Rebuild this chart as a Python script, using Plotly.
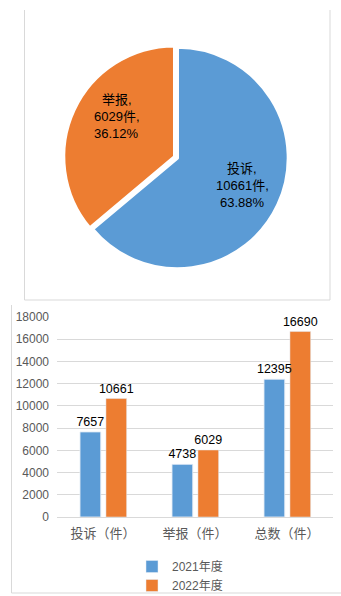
import plotly.graph_objects as go

pie_labels = ["投诉", "举报"]
pie_values = [10661, 6029]
pie_pcts = ["63.88%", "36.12%"]

categories = ["投诉（件）", "举报（件）", "总数（件）"]
series_2021 = [7657, 4738, 12395]
series_2022 = [10661, 6029, 16690]
series_names = ["2021年度", "2022年度"]
y_ticks = [0, 2000, 4000, 6000, 8000, 10000, 12000, 14000, 16000, 18000]

BLUE = "#5B9BD5"
ORANGE = "#ED7D31"
GRID = "#D9D9D9"
FONT = "Liberation Sans, Noto Sans CJK SC"

W, H = 341, 596

def px(x):
    return x / W

def py(y):
    return 1 - y / H

fig = go.Figure()

fig.add_trace(go.Pie(
    labels=pie_labels, values=pie_values,
    textinfo="none",
    marker=dict(colors=[BLUE, ORANGE], line=dict(color="white", width=3)),
    sort=False, direction="clockwise", rotation=0,
    pull=[0, 0.03], showlegend=False,
    domain=dict(x=[px(52), px(303)], y=[py(272), py(44)]),
    hoverinfo="skip",
))

# pie labels as annotations (text built from the data), one line each
pie_label_pos = [(px(242), py(185)), (px(117), py(117))]
LINE = 17
annotations = []
for (l, v, p), (ax_, ay_) in zip(zip(pie_labels, pie_values, pie_pcts), pie_label_pos):
    lines = [f"{l},", f"{v}件,", p]
    for i, t in enumerate(lines):
        annotations.append(dict(
            xref="paper", yref="paper", x=ax_, y=ay_ - (i - 1) * LINE / H,
            xanchor="center", yanchor="middle",
            text=t, showarrow=False, align="center",
            font=dict(family=FONT, size=13, color="black"),
        ))

BAR_W = 0.225
OFF_A = -0.25
OFF_B = 0.032
label_font = dict(family=FONT, size=12.5, color="black")

fig.add_trace(go.Bar(
    x=categories, y=series_2021, name=series_names[0], marker_color=BLUE,
    width=BAR_W, offset=OFF_A, hoverinfo="skip",
))
fig.add_trace(go.Bar(
    x=categories, y=series_2022, name=series_names[1], marker_color=ORANGE,
    width=BAR_W, offset=OFF_B,
    text=[str(v) for v in series_2022], textposition="outside", constraintext="none",
    textfont=label_font, cliponaxis=False, hoverinfo="skip",
))
# value labels of 2021 drawn on top of the 2022 bars
fig.add_trace(go.Bar(
    x=categories, y=series_2021, name=series_names[0], marker_color="rgba(0,0,0,0)",
    width=BAR_W, offset=OFF_A, showlegend=False,
    text=[str(v) for v in series_2021], textposition="outside", constraintext="none",
    textfont=label_font, cliponaxis=False, hoverinfo="skip",
))

shapes = [
    dict(type="line", xref="paper", yref="paper", x0=px(24.5), x1=px(24.5), y0=py(10), y1=py(300), line=dict(color=GRID, width=1)),
    dict(type="line", xref="paper", yref="paper", x0=px(330), x1=px(330), y0=py(10), y1=py(300), line=dict(color=GRID, width=1)),
    dict(type="line", xref="paper", yref="paper", x0=px(24.5), x1=px(330), y0=py(300), y1=py(300), line=dict(color=GRID, width=1)),
    dict(type="line", xref="paper", yref="paper", x0=px(11.5), x1=px(11.5), y0=py(305), y1=py(593), line=dict(color=GRID, width=1)),
    dict(type="line", xref="paper", yref="paper", x0=px(11.5), x1=px(341), y0=py(593), y1=py(593), line=dict(color=GRID, width=1)),
]

fig.update_layout(
    width=W, height=H,
    margin=dict(l=0, r=0, t=0, b=0, autoexpand=False),
    paper_bgcolor="white", plot_bgcolor="white",
    font=dict(family=FONT, color="#595959", size=12),
    barmode="overlay",
    uniformtext=dict(mode=False),
    xaxis=dict(domain=[px(57), px(333)], showline=True, linecolor=GRID,
               ticks="", tickfont=dict(size=13, color="#595959"), fixedrange=True,
               automargin=False, ticklabelstandoff=4, range=[-0.5, 2.5]),
    yaxis=dict(domain=[py(517), py(317)], range=[0, 18000], tickvals=y_ticks,
               ticktext=[str(t) for t in y_ticks],
               showgrid=True, gridcolor=GRID, zeroline=False, showline=False,
               tickfont=dict(size=12, color="#595959"), ticks="", fixedrange=True,
               automargin=False, ticklabelstandoff=7),
    legend=dict(orientation="v", x=px(132), y=py(552), xanchor="left", yanchor="top",
                font=dict(size=12, color="#595959"), tracegroupgap=0,
                itemwidth=30, bgcolor="rgba(0,0,0,0)"),
    shapes=shapes,
    annotations=annotations,
)

fig.write_html("out.html")
